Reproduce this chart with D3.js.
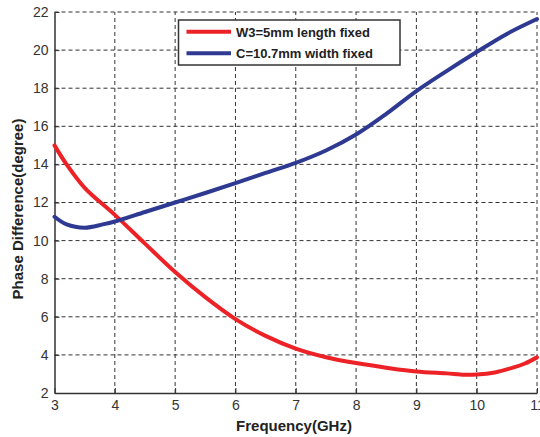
<!DOCTYPE html>
<html>
<head>
<meta charset="utf-8">
<script src="https://cdn.jsdelivr.net/npm/d3@7/dist/d3.min.js"></script>
<style>
  html, body { margin: 0; padding: 0; background: #fff; }
  svg { display: block; font-family: "Liberation Sans", Arial, sans-serif; }
</style>
</head>
<body>
<svg id="chart" width="540" height="437"></svg>
<script>
// Frequency samples (GHz)
const freqW3 = [3, 3.2, 3.5, 4, 4.5, 5, 5.5, 6, 6.5, 7, 7.5, 8, 8.5, 9, 9.5, 9.8, 10, 10.3, 10.6, 10.8, 11];
// Phase difference with W3 = 5 mm, length fixed (degree)
const phaseW3 = [15.0, 14.0, 12.77, 11.35, 9.84, 8.35, 7.03, 5.88, 5.0, 4.33, 3.88, 3.57, 3.33, 3.13, 3.03, 2.96, 2.97, 3.08, 3.33, 3.55, 3.87];

const freqC = [3, 3.2, 3.5, 3.8, 4, 4.5, 5, 5.5, 6, 6.5, 7, 7.5, 8, 8.5, 9, 9.5, 10, 10.5, 11];
// Phase difference with C = 10.7 mm, width fixed (degree)
const phaseC = [11.25, 10.85, 10.68, 10.85, 11.0, 11.5, 12.0, 12.5, 13.02, 13.55, 14.08, 14.73, 15.57, 16.65, 17.85, 18.9, 19.9, 20.85, 21.63];

const xTicks = [3, 4, 5, 6, 7, 8, 9, 10, 11];
const yTicks = [2, 4, 6, 8, 10, 12, 14, 16, 18, 20, 22];

const seriesNames = ["W3=5mm length fixed", "C=10.7mm width fixed"];
const seriesColors = ["#ec2227", "#2e3a92"];

const svg = d3.select("#chart");
const margin = { left: 54.5, right: 3, top: 12, bottom: 44 };
const W = 540, H = 437;

const x = d3.scaleLinear().domain([3, 11]).range([margin.left, W - margin.right]);
const y = d3.scaleLinear().domain([2, 22]).range([H - margin.bottom, margin.top]);

// Dashed grid
const grid = svg.append("g");
grid.selectAll("line.vx").data(xTicks.slice(1)).join("line")
  .attr("x1", d => x(d)).attr("x2", d => x(d))
  .attr("y1", y(2)).attr("y2", y(22))
  .attr("stroke", "#333").attr("stroke-width", 1).attr("stroke-dasharray", "4,3");
grid.selectAll("line.hy").data(yTicks.slice(1)).join("line")
  .attr("x1", x(3)).attr("x2", x(11))
  .attr("y1", d => y(d)).attr("y2", d => y(d))
  .attr("stroke", "#333").attr("stroke-width", 1).attr("stroke-dasharray", "4,3");

// Axes with short inward ticks
const xAxis = svg.append("g")
  .attr("transform", `translate(0,${y(2)})`)
  .call(d3.axisBottom(x).tickValues(xTicks).tickSizeInner(-5).tickSizeOuter(0).tickPadding(7).tickFormat(d3.format("d")));
const yAxis = svg.append("g")
  .attr("transform", `translate(${x(3)},0)`)
  .call(d3.axisLeft(y).tickValues(yTicks).tickSizeInner(-5).tickSizeOuter(0).tickPadding(6).tickFormat(d3.format("d")));
[xAxis, yAxis].forEach(a => {
  a.select(".domain").attr("stroke", "#333").attr("stroke-width", 1.5);
  a.selectAll(".tick line").attr("stroke", "#333").attr("stroke-width", 1);
  a.selectAll("text").attr("font-size", 14).attr("fill", "#333")
    .attr("font-family", "'Liberation Sans', Arial, sans-serif");
});

// Curves
const line = d3.line().x(d => x(d[0])).y(d => y(d[1])).curve(d3.curveCatmullRom.alpha(0.5));
const dataW3 = freqW3.map((f, i) => [f, phaseW3[i]]);
const dataC = freqC.map((f, i) => [f, phaseC[i]]);
svg.append("path").datum(dataW3).attr("d", line)
  .attr("fill", "none").attr("stroke", seriesColors[0]).attr("stroke-width", 4).attr("stroke-linecap", "round");
svg.append("path").datum(dataC).attr("d", line)
  .attr("fill", "none").attr("stroke", seriesColors[1]).attr("stroke-width", 4).attr("stroke-linecap", "round");

// Axis titles
svg.append("text").attr("x", 294).attr("y", 431).attr("text-anchor", "middle")
  .attr("font-size", 15).attr("font-weight", "bold").attr("fill", "#222")
  .text("Frequency(GHz)");
svg.append("text").attr("transform", "translate(23,209) rotate(-90)").attr("text-anchor", "middle")
  .attr("font-size", 15).attr("font-weight", "bold").attr("fill", "#222")
  .text("Phase Difference(degree)");

// Legend
const lg = svg.append("g");
lg.append("rect").attr("x", 178.5).attr("y", 20).attr("width", 221.5).attr("height", 45)
  .attr("fill", "#fff").attr("stroke", "#333").attr("stroke-width", 1.5);
seriesNames.forEach((name, i) => {
  const yy = 31.7 + i * 21.6;
  lg.append("line").attr("x1", 186.5).attr("x2", 231).attr("y1", yy).attr("y2", yy)
    .attr("stroke", seriesColors[i]).attr("stroke-width", 4);
  lg.append("text").attr("x", 236).attr("y", yy + 4.8)
    .attr("font-size", 13).attr("font-weight", "bold").attr("fill", "#222").text(name);
});
</script>
</body>
</html>
